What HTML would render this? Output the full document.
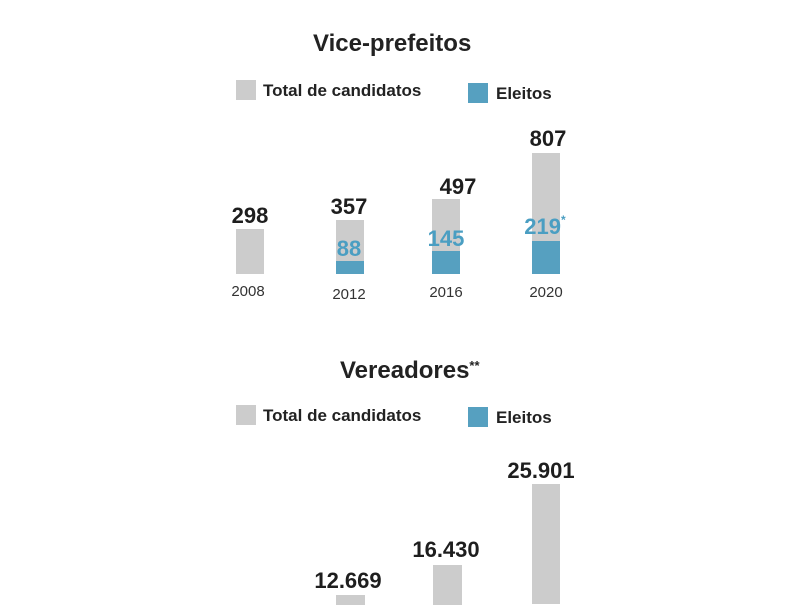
<!DOCTYPE html>
<html><head><meta charset="utf-8"><style>
body{margin:0;width:800px;height:600px;background:#fff;position:relative;overflow:hidden;font-family:"Liberation Sans",sans-serif;}
.a{position:absolute;line-height:1;white-space:nowrap;}
.c{width:120px;text-align:center;}
.t{font-size:24px;font-weight:bold;color:#222;}
.lg{font-size:17px;font-weight:bold;color:#222;}
.v{font-size:22px;font-weight:bold;color:#1e1e1e;}
.b{color:#4a9ec2;}
.y{font-size:15px;color:#333;}
.g{position:absolute;background:#cccccc;}
.bl{position:absolute;background:#56a0c0;}
</style></head><body>
<div class="a t" style="left:313px;top:32px;">Vice-prefeitos</div>
<div class="g" style="left:236px;top:80px;width:20px;height:20px"></div>
<div class="a lg" style="left:263px;top:82px;">Total de candidatos</div>
<div class="bl" style="left:468px;top:83px;width:20px;height:20px"></div>
<div class="a lg" style="left:496px;top:85px;">Eleitos</div>

<div class="g" style="left:236px;top:229px;width:28px;height:45px"></div>
<div class="g" style="left:336px;top:220px;width:28px;height:54px"></div>
<div class="bl" style="left:336px;top:261px;width:28px;height:13px"></div>
<div class="g" style="left:432px;top:199px;width:28px;height:75px"></div>
<div class="bl" style="left:432px;top:251px;width:28px;height:23px"></div>
<div class="g" style="left:532px;top:153px;width:28px;height:121px"></div>
<div class="bl" style="left:532px;top:241px;width:28px;height:33px"></div>

<div class="a v c" style="left:190px;top:205px;">298</div>
<div class="a v c" style="left:289px;top:196px;">357</div>
<div class="a v c" style="left:398px;top:176px;">497</div>
<div class="a v c" style="left:488px;top:128px;">807</div>
<div class="a v c b" style="left:289px;top:238px;">88</div>
<div class="a v c b" style="left:386px;top:228px;">145</div>
<div class="a v c b" style="left:485px;top:216px;">219<span style="font-size:12px;vertical-align:top;position:relative;top:-2px;color:#4a9ec2">*</span></div>
<div class="a y c" style="left:188px;top:284px;">2008</div>
<div class="a y c" style="left:289px;top:287px;">2012</div>
<div class="a y c" style="left:386px;top:285px;">2016</div>
<div class="a y c" style="left:486px;top:285px;">2020</div>

<div class="a t" style="left:340px;top:359px;">Vereadores<span style="font-size:13px;vertical-align:top">**</span></div>
<div class="g" style="left:236px;top:405px;width:20px;height:20px"></div>
<div class="a lg" style="left:263px;top:407px;">Total de candidatos</div>
<div class="bl" style="left:468px;top:407px;width:20px;height:20px"></div>
<div class="a lg" style="left:496px;top:409px;">Eleitos</div>

<div class="g" style="left:336px;top:595px;width:29px;height:10px"></div>
<div class="g" style="left:433px;top:565px;width:29px;height:40px"></div>
<div class="g" style="left:532px;top:484px;width:28px;height:120px"></div>
<div class="a v c" style="left:288px;top:570px;">12.669</div>
<div class="a v c" style="left:386px;top:539px;">16.430</div>
<div class="a v c" style="left:481px;top:460px;">25.901</div>
</body></html>
